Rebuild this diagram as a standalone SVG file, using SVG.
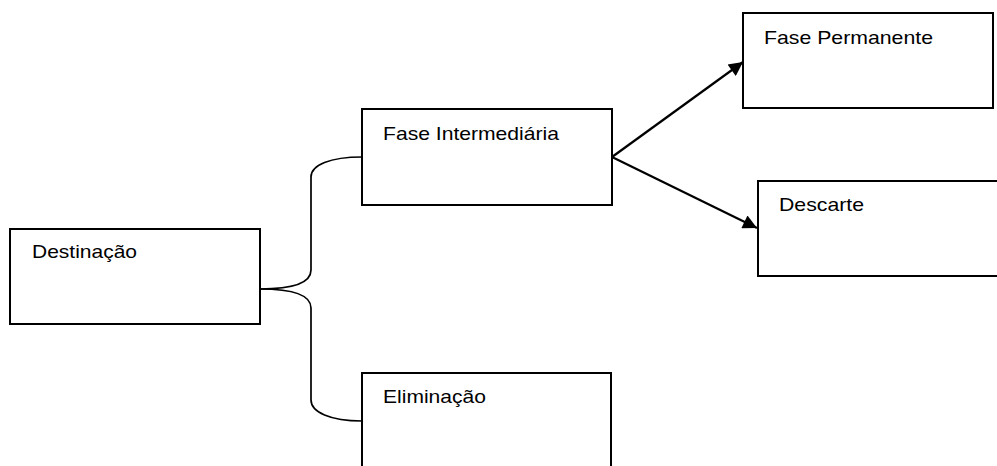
<svg xmlns="http://www.w3.org/2000/svg" width="997" height="466" viewBox="0 0 997 466">
<style>
.box{fill:#fff;stroke:#000;stroke-width:2}
.lbl{font-family:"Liberation Sans",Arial,sans-serif;font-size:18.5px;fill:#000}
.con{fill:none;stroke:#000;stroke-width:1.7}
.arr{fill:none;stroke:#000;stroke-width:2.2}
</style>
<defs>
<marker id="ah" viewBox="0 0 10 10" refX="10" refY="5" markerWidth="18" markerHeight="14" markerUnits="userSpaceOnUse" orient="auto">
<path d="M0,0 L10,5 L0,10 z" fill="#000"/>
</marker>
</defs>
<rect width="997" height="466" fill="#fff"/>
<g id="connectors">
<path class="con" d="M260,289 C295,289 311,282 311,270 L311,177 C311,165 330,157 362,157"/>
<path class="con" d="M260,289 C295,289 311,296 311,308 L311,400 C311,412 330,421 362,421"/>
<line class="arr" x1="612" y1="157" x2="743" y2="62" marker-end="url(#ah)"/>
<line class="arr" x1="612" y1="157" x2="757" y2="228" marker-end="url(#ah)"/>
</g>
<g id="destinacao">
<rect class="box" x="10" y="229" width="250" height="95"/>
<text class="lbl" x="32" y="258" textLength="105" lengthAdjust="spacingAndGlyphs">Destinação</text>
</g>
<g id="fase-intermediaria">
<rect class="box" x="362" y="109" width="250" height="96"/>
<text class="lbl" x="383" y="140" textLength="176" lengthAdjust="spacingAndGlyphs">Fase Intermediária</text>
</g>
<g id="eliminacao">
<rect class="box" x="362" y="373" width="249" height="110"/>
<text class="lbl" x="383" y="403" textLength="103" lengthAdjust="spacingAndGlyphs">Eliminação</text>
</g>
<g id="fase-permanente">
<rect class="box" x="743" y="13" width="250" height="95"/>
<text class="lbl" x="764" y="44" textLength="169" lengthAdjust="spacingAndGlyphs">Fase Permanente</text>
</g>
<g id="descarte">
<rect class="box" x="758" y="181" width="260" height="95"/>
<text class="lbl" x="779" y="211" textLength="85" lengthAdjust="spacingAndGlyphs">Descarte</text>
</g>
</svg>
